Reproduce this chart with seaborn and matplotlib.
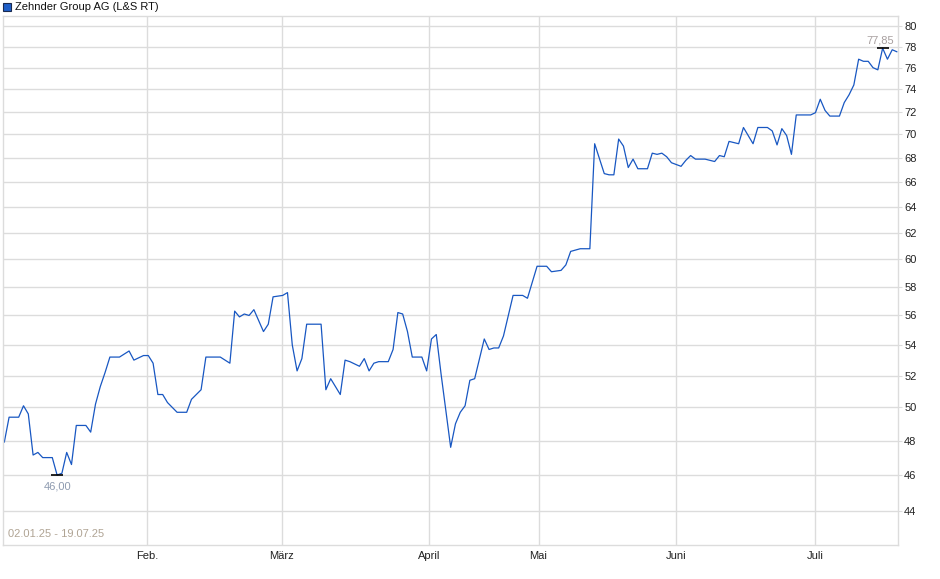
import numpy as np
import pandas as pd
import seaborn as sns
import matplotlib.pyplot as plt
from matplotlib.ticker import FixedLocator, NullLocator, FuncFormatter
from matplotlib.patches import Rectangle


# trading-point index and price (L&S RT)
day = [0, 1, 3, 4, 5, 6, 7, 8, 10, 11, 12, 13, 14, 15, 17, 18, 19, 20, 21, 22,
       24, 26, 27, 29, 30, 31, 32, 33, 34, 36, 38, 39, 41, 42, 45, 47, 48, 49,
       50, 51, 52, 54, 55, 56, 58, 59, 60, 61, 62, 63, 66, 67, 68, 70, 71, 72,
       74, 75, 76, 77, 78, 80, 81, 82, 83, 84, 85, 87, 88, 89, 90, 91, 93, 94,
       95, 96, 97, 98, 100, 101, 102, 103, 104, 106, 108, 109, 111, 113, 114,
       116, 117, 118, 120, 122, 123, 125, 126, 127, 128, 129, 130, 131, 132,
       134, 135, 136, 137, 138, 139, 141, 142, 143, 144, 146, 148, 149, 150,
       151, 153, 154, 155, 156, 157, 159, 160, 161, 162, 163, 164, 165, 168,
       169, 170, 171, 172, 174, 175, 176, 177, 178, 179, 180, 181, 182, 183,
       184, 185, 186]
price = [47.9, 49.4, 49.4, 50.1, 49.6, 47.15, 47.3, 47.0, 47.0, 46.0, 46.1,
         47.3, 46.6, 48.9, 48.9, 48.5, 50.2, 51.3, 52.2, 53.2,
         53.2, 53.6, 53.0, 53.3, 53.3, 52.8, 50.8, 50.8, 50.3, 49.7, 49.7, 50.5,
         51.1, 53.2, 53.2, 52.8, 56.3, 55.9,
         56.1, 56.0, 56.4, 54.9, 55.4, 57.3, 57.4, 57.6, 54.0, 52.3, 53.1, 55.4,
         55.4, 51.1, 51.8, 50.8, 53.0, 52.9,
         52.6, 53.1, 52.3, 52.8, 52.9, 52.9, 53.7, 56.2, 56.1, 54.9, 53.2, 53.2,
         52.3, 54.4, 54.7, 52.1, 47.6, 49.0,
         49.7, 50.1, 51.7, 51.8, 54.4, 53.7, 53.8, 53.8, 54.6, 57.4, 57.4, 57.2,
         59.5, 59.5, 59.1,
         59.2, 59.6, 60.6, 60.8, 60.8, 69.2, 66.7, 66.6, 66.6, 69.6, 69.0, 67.2,
         67.9, 67.1,
         67.1, 68.4, 68.3, 68.4, 68.1, 67.6, 67.3, 67.8, 68.2, 67.9, 67.9, 67.7,
         68.2, 68.1,
         69.4, 69.2, 70.6, 69.9, 69.2, 70.6, 70.6, 70.3, 69.1, 70.5, 69.9, 68.3,
         71.7, 71.7,
         71.9, 73.1, 72.1, 71.6, 71.6, 72.8, 73.5, 74.4, 76.8, 76.6, 76.6, 76.0,
         75.8, 77.85,
         76.8, 77.7, 77.5]

month_pos = [29.8, 57.8, 88.5, 111.3, 140.0, 169.0]
month_labels = ["Feb.", "März", "April", "Mai", "Juni", "Juli"]
y_ticks = list(range(44, 81, 2))

df = pd.DataFrame({"day": day, "price": price})

sns.set_style("white")
plt.rcParams['font.family'] = ['Liberation Sans', 'DejaVu Sans']

grid_c = "#dcdcdc"
line_c = "#1857c2"

fig = plt.figure(figsize=(9.4, 5.79), dpi=100)
ax = fig.add_axes([3 / 940, 1 - 545 / 579, 895 / 940, 529 / 579])

sns.lineplot(data=df, x="day", y="price", ax=ax, color=line_c, lw=0.9)

ax.set_yscale("log")
ax.set_ylim(42.2, 81.0)
ax.set_xlim(-0.27, 186.2)

ax.yaxis.set_major_locator(FixedLocator(y_ticks))
ax.yaxis.set_minor_locator(NullLocator())
ax.yaxis.set_major_formatter(FuncFormatter(lambda v, p: f"{v:.0f}"))
ax.yaxis.tick_right()
ax.set_xticks(month_pos)
ax.set_xticklabels(month_labels)
ax.set_xlabel("")
ax.set_ylabel("")

ax.grid(True, color=grid_c, lw=1)
for s in ax.spines.values():
    s.set_color(grid_c)
    s.set_linewidth(1)
ax.tick_params(axis="both", length=3, color=grid_c, labelsize=8,
               labelcolor="#222222", pad=1.5)

# min / max markers
i_min = int(np.argmin(price))
i_max = int(np.argmax(price))
ax.plot(day[i_min], price[i_min], marker="_", ms=9, mew=1.2, color="black")
ax.plot(day[i_max], price[i_max], marker="_", ms=9, mew=1.2, color="black")
ax.annotate(f"{price[i_min]:.2f}".replace(".", ","), (day[i_min], price[i_min]),
            xytext=(0, -5), textcoords="offset points", ha="center", va="top",
            fontsize=8, color="#8e9bb0")
ax.annotate(f"{price[i_max]:.2f}".replace(".", ","), (day[i_max], price[i_max]),
            xytext=(-2, 2), textcoords="offset points", ha="center", va="bottom",
            fontsize=8, color="#a8a0a0")

ax.text(0.006, 0.012, "02.01.25 - 19.07.25", transform=ax.transAxes,
        fontsize=8, color="#b0a494", ha="left", va="bottom")

# legend box
fig.patches.append(Rectangle((3 / 940, 1 - 11 / 579), 8 / 940, 8 / 579,
                             transform=fig.transFigure, facecolor="#1f5fc8",
                             edgecolor="#1a2a50", lw=0.8))
fig.text(15 / 940, 1 - 6.5 / 579, "Zehnder Group AG (L&S RT)", fontsize=8,
         color="#111111", ha="left", va="center")

fig.savefig("out.png", dpi=100)
